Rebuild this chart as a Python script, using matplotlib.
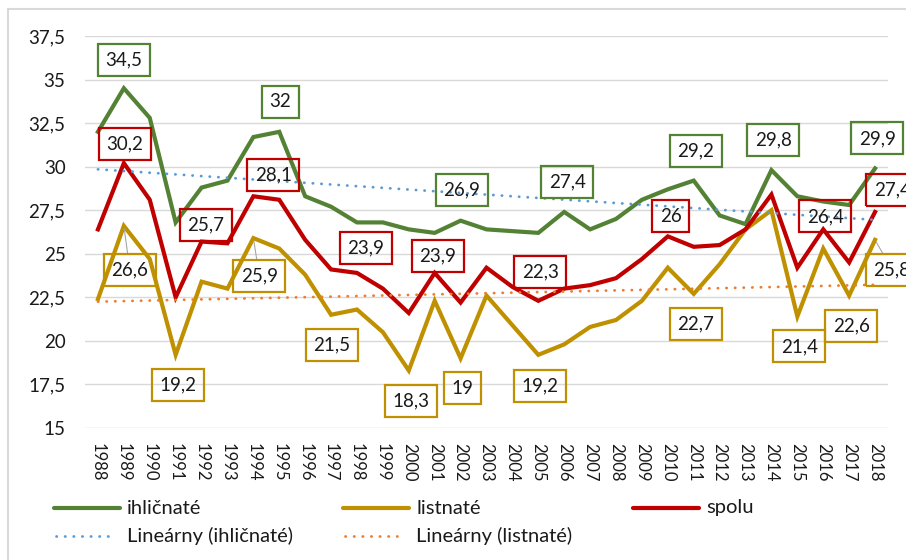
import numpy as np
import matplotlib
matplotlib.use("Agg")
import matplotlib.pyplot as plt
from matplotlib.lines import Line2D
from matplotlib.patches import Rectangle

plt.rcParams['font.family'] = ['Lato', 'DejaVu Sans']

years = list(range(1988, 2019))
ihlicnate = [32.0, 34.5, 32.8, 26.8, 28.8, 29.2, 31.7, 32.0, 28.3, 27.7, 26.8,
             26.8, 26.4, 26.2, 26.9, 26.4, 26.3, 26.2, 27.4, 26.4, 27.0, 28.1,
             28.7, 29.2, 27.2, 26.7, 29.8, 28.3, 28.0, 27.8, 29.9]
listnate = [22.4, 26.6, 24.7, 19.2, 23.4, 23.0, 25.9, 25.3, 23.8, 21.5, 21.8,
            20.5, 18.3, 22.3, 19.0, 22.6, 20.9, 19.2, 19.8, 20.8, 21.2, 22.3,
            24.2, 22.7, 24.4, 26.4, 27.5, 21.4, 25.3, 22.6, 25.8]
spolu = [26.4, 30.2, 28.1, 22.5, 25.7, 25.6, 28.3, 28.1, 25.8, 24.1, 23.9,
         23.0, 21.6, 23.9, 22.2, 24.2, 23.1, 22.3, 23.0, 23.2, 23.6, 24.7,
         26.0, 25.4, 25.5, 26.4, 28.4, 24.2, 26.4, 24.5, 27.4]
y_ticks = [15, 17.5, 20, 22.5, 25, 27.5, 30, 32.5, 35, 37.5]

names = ['ihličnaté', 'listnaté', 'spolu']
trend_names = ['Lineárny (ihličnaté)', 'Lineárny (listnaté)']

# which points get a data label: (year, dx px, dy px, leader line)
labels_ihl = [(1989, 0, 28, False), (1995, 1, 30, False), (2002, 1, 31, False),
              (2006, 3, 30, False), (2011, 2, 30, False), (2014, 2, 30, False),
              (2018, 2, 30, False)]
labels_list = [(1989, 6, -44, True), (1991, 2, -30, False), (1994, 6, -38, True),
               (1997, 1, -30, False), (2000, 2, -30, False), (2002, 2, -30, False),
               (2005, 2, -31, False), (2011, 2, -30, False), (2015, 2, -30, False),
               (2017, 2, -30, False), (2018, 17, -30, True)]
labels_spolu = [(1989, 1, 19, False), (1992, 4, 17, False), (1995, -6, 25, False),
                (1998, 9, 25, False), (2001, 3, 17, False), (2005, 2, 29, False),
                (2010, 3, 20, False), (2016, 2, 13, False), (2018, 17, 22, False)]

c_green = '#548235'
c_gold = '#BF9000'
c_red = '#C00000'
c_blue = '#5B9BD5'
c_orange = '#ED7D31'

W, H = 906, 560
fig = plt.figure(figsize=(W / 100, H / 100), dpi=100)


def fx(x):
    return x / W


def fy(y):
    return 1 - y / H


# chart frame (only left/top visible in the crop)
fig.patches.append(Rectangle((fx(8), fy(600)), fx(960), fy(9) - fy(600),
                             transform=fig.transFigure, fill=False,
                             edgecolor='#d9d9d9', lw=1.5))

ax = fig.add_axes([fx(85), fy(428), fx(888) - fx(85), fy(36) - fy(428)])
x = np.arange(len(years))

ax.set_xlim(-0.5, len(years) - 0.5)
ax.set_ylim(15, 37.5)
ax.set_yticks(y_ticks)
ax.set_yticklabels([f"{v:g}".replace('.', ',') for v in y_ticks])
ax.set_xticks(x)
ax.set_xticklabels([str(y) for y in years], rotation=-90)
ax.tick_params(axis='y', length=0, pad=14, labelsize=13.5, colors='#1a1a1a')
ax.tick_params(axis='x', length=0, pad=11, labelsize=12, colors='#1a1a1a')
for lbl in ax.get_xticklabels():
    lbl.set_va('top')
for s in ax.spines.values():
    s.set_visible(False)
ax.grid(axis='y', color='#d9d9d9', lw=1.0)
ax.set_axisbelow(True)

series = [(ihlicnate, c_green, labels_ihl), (listnate, c_gold, labels_list),
          (spolu, c_red, labels_spolu)]
for vals, col, _ in series:
    ax.plot(x, vals, color=col, lw=3.0, solid_joinstyle='miter', zorder=3)

# linear trendlines
for vals, col in [(ihlicnate, c_blue), (listnate, c_orange)]:
    k, q = np.polyfit(x, vals, 1)
    ax.plot(x, k * x + q, color=col, lw=2.0, linestyle=(0, (0.1, 3.0)),
            dash_capstyle='round', zorder=4)

for vals, col, lab in series:
    for yr, dx, dy, leader in lab:
        i = years.index(yr)
        txt = f"{vals[i]:g}".replace('.', ',')
        kw = {}
        if leader:
            kw['arrowprops'] = dict(arrowstyle='-', color='#a6a6a6', lw=0.8,
                                    shrinkA=0, shrinkB=2)
        ax.annotate(txt, xy=(i, vals[i]), xytext=(dx, dy),
                    textcoords='offset pixels', ha='center', va='center',
                    fontsize=13.5, color='#1a1a1a', zorder=5, annotation_clip=False,
                    bbox=dict(boxstyle='square,pad=0.4', fc='none', ec=col, lw=1.6),
                    **kw)

# legend drawn by hand to mimic Excel's grid layout
leg = [(names[0], c_green, '-', 54, 508), (names[1], c_gold, '-', 343, 508),
       (names[2], c_red, '-', 633, 508),
       (trend_names[0], c_blue, ':', 54, 536), (trend_names[1], c_orange, ':', 343, 536)]
for name, col, ls, lx, ly in leg:
    if ls == '-':
        ln = Line2D([fx(lx), fx(lx + 66)], [fy(ly), fy(ly)], color=col, lw=3.0,
                    solid_capstyle='round', transform=fig.transFigure)
    else:
        ln = Line2D([fx(lx + 2), fx(lx + 62)], [fy(ly), fy(ly)], color=col, lw=2.0,
                    linestyle=(0, (0.1, 3.0)), dash_capstyle='round',
                    transform=fig.transFigure)
    fig.lines.append(ln)
    fig.text(fx(lx + 73), fy(ly), name, fontsize=14.5, color='#1a1a1a',
             va='center', ha='left')

fig.savefig('out.png', dpi=100)
